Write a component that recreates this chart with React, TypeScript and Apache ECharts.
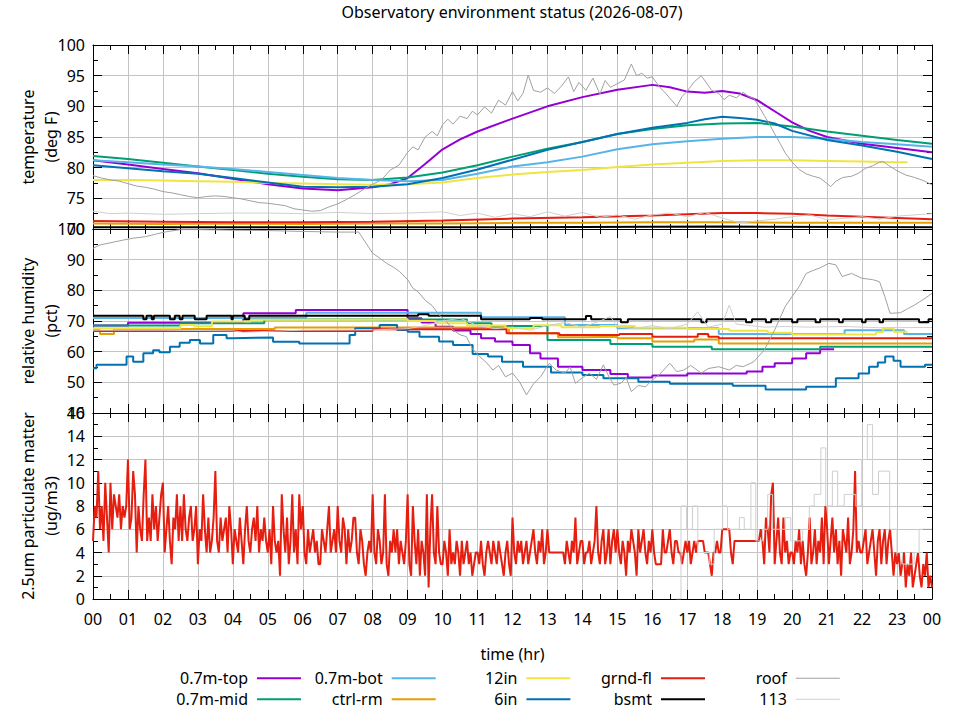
import React, { useEffect, useRef } from "react";
import * as echarts from "echarts";

const FONT = '"Noto Sans", "DejaVu Sans", sans-serif';
const TITLE = "Observatory environment status (2026-08-07)";

const SENSORS = ["0.7m-top", "0.7m-mid", "0.7m-bot", "ctrl-rm", "12in", "6in", "grnd-fl", "bsmt", "roof", "113"];
const COLORS: Record<string, string> = {
  "0.7m-top": "#9400d3",
  "0.7m-mid": "#009e73",
  "0.7m-bot": "#56b4e9",
  "ctrl-rm": "#e69f00",
  "12in": "#f0e442",
  "6in": "#0072b2",
  "grnd-fl": "#e51e10",
  bsmt: "#000000",
  roof: "#a0a0a0",
  "113": "#cfcfcf",
};

// ---------- temperature (deg F), [hour, value] ----------
const TEMP_TOP = [[0,81.2],[1,80.5],[2,79.8],[3,79.1],[4,78.2],[5,77.3],[6,76.6],[7,76.3],[8,76.8],[8.5,77.3],[9,78.3],[9.5,80.6],[10,83.0],[10.5,84.6],[11,85.9],[12,88.0],[13,90.0],[14,91.5],[15,92.7],[16,93.5],[16.5,93.1],[17,92.4],[17.5,92.2],[18,92.5],[18.5,92.1],[19,91.0],[19.5,89.2],[20,87.4],[20.5,86.0],[21,85.0],[22,83.9],[23,83.2],[24,82.5]];
const TEMP_MID = [[0,81.9],[1,81.4],[2,80.8],[3,80.2],[4,79.6],[5,79.0],[6,78.5],[7,78.1],[8,78.0],[9,78.4],[10,79.2],[11,80.4],[12,81.8],[13,83.1],[14,84.2],[15,85.5],[16,86.3],[17,86.9],[18,87.2],[19,87.3],[20,86.7],[21,85.9],[22,85.2],[23,84.5],[24,83.9]];
const TEMP_BOT = [[0,81.2],[1,80.9],[2,80.5],[3,80.2],[4,79.8],[5,79.3],[6,78.8],[7,78.3],[8,78.0],[9,77.8],[10,78.0],[11,79.0],[12,80.2],[13,80.9],[14,81.8],[15,83.0],[16,83.8],[17,84.3],[18,84.7],[19,85.0],[20,85.0],[21,84.7],[22,84.2],[23,83.8],[24,83.4]];
const TEMP_CTRL = [[0,70.9],[2,70.8],[4,70.9],[6,70.8],[8,70.9],[10,70.9],[12,71.0],[14,71.0],[16,71.1],[18,71.1],[20,71.0],[22,71.0],[24,71.0]];
const TEMP_12IN = [[0,78.0],[1,78.0],[2,77.9],[3,77.8],[4,77.7],[5,77.5],[6,77.4],[7,77.3],[8,77.2],[9,77.3],[10,77.6],[11,78.3],[12,78.9],[13,79.3],[14,79.6],[15,80.1],[16,80.5],[17,80.8],[18,81.1],[19,81.2],[20,81.2],[21,81.1],[22,81.0],[23,80.9],[23.3,80.9]];
const TEMP_6IN = [[0,80.4],[1,79.9],[2,79.4],[3,79.0],[4,78.3],[5,77.6],[6,76.9],[7,76.8],[8,76.9],[9,77.3],[10,78.3],[11,79.7],[12,81.3],[13,82.9],[14,84.2],[15,85.5],[16,86.5],[17,87.3],[17.5,87.9],[18,88.3],[18.5,88.1],[19,87.8],[19.5,87.2],[20,86.0],[21,84.5],[22,83.6],[23,82.6],[24,81.4]];
const TEMP_GRND = [[0,71.3],[2,71.2],[4,71.1],[6,71.1],[8,71.2],[10,71.4],[12,71.7],[14,71.9],[16,72.2],[17,72.4],[18,72.6],[19,72.6],[20,72.5],[21,72.2],[22,72.0],[23,71.8],[24,71.6]];
const TEMP_BSMT = [[0,70.3],[6,70.3],[12,70.3],[18,70.4],[24,70.3]];
const TEMP_ROOF = [[0,78.7],[0.25,78.3],[0.5,78.0],[0.75,77.8],[1,77.4],[1.25,77.0],[1.5,76.8],[1.75,76.5],[2,76.1],[2.25,75.9],[2.5,75.6],[2.75,75.3],[3,75.1],[3.25,75.3],[3.5,75.4],[3.75,75.3],[4,75.1],[4.25,74.9],[4.5,74.6],[4.75,74.3],[5,74.2],[5.25,74.0],[5.5,73.8],[5.75,73.3],[6,73.1],[6.25,72.9],[6.5,73.0],[6.75,73.6],[7,74.1],[7.25,74.8],[7.5,75.6],[7.75,76.5],[8,77.3],[8.25,78.0],[8.5,79.6],[8.75,80.4],[9,82.5],[9.15,83.4],[9.3,82.9],[9.5,85.0],[9.7,85.9],[9.85,85.2],[10,87.0],[10.15,87.9],[10.3,87.1],[10.5,88.4],[10.7,88.0],[10.85,89.2],[11,88.6],[11.2,89.9],[11.4,88.9],[11.6,91.0],[11.8,90.2],[12,92.4],[12.15,90.9],[12.3,92.1],[12.45,95.1],[12.6,92.6],[12.8,92.3],[13,93.0],[13.2,92.1],[13.4,93.3],[13.6,94.8],[13.75,92.4],[13.9,93.9],[14.1,92.6],[14.3,94.6],[14.5,92.0],[14.65,94.2],[14.8,93.1],[15,93.7],[15.2,94.3],[15.4,96.9],[15.55,95.0],[15.7,95.4],[15.85,94.6],[16,94.8],[16.2,93.2],[16.4,92.0],[16.55,91.0],[16.7,90.0],[16.85,91.6],[17,92.5],[17.2,94.0],[17.4,95.0],[17.55,93.8],[17.7,92.6],[17.9,92.1],[18.05,91.1],[18.2,91.8],[18.4,91.4],[18.6,92.3],[18.75,91.6],[18.9,91.3],[19.05,90.0],[19.2,88.5],[19.35,87.1],[19.5,85.5],[19.65,84.0],[19.8,82.4],[20,80.9],[20.2,79.7],[20.4,79.0],[20.6,78.6],[20.8,78.3],[21,77.4],[21.1,76.9],[21.25,77.8],[21.45,78.4],[21.7,78.6],[21.9,79.1],[22.1,79.9],[22.3,80.3],[22.5,80.9],[22.6,81.0],[22.75,80.4],[23,79.5],[23.25,78.8],[23.5,78.4],[23.75,77.9],[24,77.2]];
const TEMP_113 = [[0,72.9],[0.5,72.5],[1,72.6],[2,72.4],[3,72.5],[4,72.6],[5,72.6],[6,72.5],[7,72.7],[8,72.5],[9,72.6],[10,72.8],[10.5,72.2],[11,72.6],[11.5,71.9],[12,72.5],[12.5,72.0],[13,72.8],[13.5,72.1],[14,72.7],[14.5,71.9],[15,72.3],[15.5,71.6],[16,72.3],[16.5,72.6],[17,72.0],[17.5,72.7],[18,71.8],[18.5,71.0],[19,71.3],[19.5,71.6],[20,72.0],[20.5,72.3],[21,71.5],[22,72.0],[22.5,71.6],[23,72.1],[24,72.5]];

// ---------- relative humidity (pct), [hour, value] ----------
const HUM_TOP = [[0,68.5],[1.0,69.4],[4.3,72.5],[5.8,73.6],[9.0,70.9],[9.4,69.5],[9.8,68.1],[10.3,66.9],[10.8,65.8],[11.1,64.4],[11.5,63.3],[12.0,62.2],[12.5,59.5],[12.8,57.8],[13.3,55.1],[14.0,54.0],[14.8,52.7],[15.3,51.6],[16.0,52.2],[17.0,52.9],[18.7,53.5],[19.15,55.1],[19.5,56.2],[20.0,57.8],[20.4,59.5],[20.8,60.8],[21.2,60.8]];
const HUM_MID = [[0,68.5],[2.5,69.3],[4.9,70.5],[10.7,69.3],[11.4,68.4],[13.0,63.8],[14.8,62.5],[16.0,61.6],[17.7,60.8],[20.8,61.6],[24,61.6]];
const HUM_BOT = [[0,71.0],[6.1,72.7],[11.1,71.2],[13.5,68.7],[15.0,67.6],[17.9,65.8],[21.5,67.0],[23.2,65.8],[24,65.8]];
const HUM_CTRL = [[0,67.1],[0.2,65.8],[0.6,67.4],[5.2,67.9],[11.9,66.0],[13.3,64.7],[14.0,64.9],[15.0,64.4],[16.0,63.3],[17.2,64.0],[17.9,62.7],[24,62.7]];
const HUM_12IN = [[0,67.6],[2.5,68.7],[2.9,68.3],[3.4,69.8],[4.5,70.4],[7.5,70.6],[9.0,70.0],[9.8,69.3],[10.7,68.5],[11.8,67.6],[12.6,68.6],[13.4,68.0],[14.5,68.4],[15.5,67.8],[17.0,67.4],[18.2,66.8],[19.3,66.2],[20.0,65.6],[22.4,66.4],[22.6,67.6],[22.9,66.5],[23.3,66.3]];
const HUM_6IN = [[0,54.6],[0.1,55.7],[0.96,58.4],[1.15,56.7],[1.44,59.5],[1.72,60.5],[1.9,59.8],[2.2,61.6],[2.48,62.9],[2.77,63.8],[3.06,62.7],[3.44,65.4],[3.82,64.4],[4.0,64.6],[5.15,63.2],[5.9,62.7],[7.34,65.4],[7.5,67.6],[8.2,68.7],[8.7,67.1],[9.0,66.5],[9.34,64.9],[9.9,63.3],[10.3,62.2],[10.86,59.2],[11.3,58.4],[11.7,56.7],[12.3,55.1],[13.1,53.2],[14.0,52.4],[14.6,51.3],[15.6,50.2],[16.5,49.5],[18.3,48.9],[19.24,47.7],[20.4,48.6],[21.25,51.3],[21.9,52.9],[22.2,55.1],[22.45,56.5],[22.66,58.4],[22.9,57.0],[23.1,55.1],[23.8,55.7],[24,55.7]];
const HUM_GRND = [[0,66.7],[8.0,67.3],[11.83,66.0],[13.34,65.4],[15.06,65.8],[16.0,64.9],[17.3,65.8],[17.6,64.9],[17.9,64.4],[24,64.4]];
const HUM_BSMT = [[0,71.7],[1.44,70.6],[1.53,71.7],[1.68,70.6],[1.74,71.7],[2.2,70.6],[2.34,71.7],[2.48,70.6],[2.56,71.7],[2.91,70.6],[3.25,71.7],[3.96,70.6],[4.0,71.7],[4.34,70.6],[4.47,71.7],[9.3,72.2],[9.6,71.7],[11.1,70.6],[12.5,71.0],[12.85,70.6],[14.1,71.6],[14.25,70.6],[15.1,69.6],[15.3,70.6],[17.4,69.6],[17.55,70.6],[18.68,69.6],[18.85,70.6],[19.25,69.6],[19.4,70.6],[20.0,69.6],[20.15,70.6],[20.67,69.6],[20.8,70.6],[21.34,69.6],[21.45,70.6],[22.0,69.6],[22.1,70.6],[22.5,69.6],[22.6,70.6],[23.63,69.6],[23.9,70.6],[24,70.6]];
const HUM_ROOF = [[0,93.7],[0.2,94.8],[0.87,96.4],[1.15,97.0],[1.5,97.5],[1.82,98.4],[2.1,99.1],[2.5,99.8],[3,99.8],[4,99.6],[5,99.5],[6,99.2],[7,99.0],[7.6,99.0],[8.0,92.1],[8.2,90.5],[8.4,88.8],[8.6,87.5],[8.77,86.1],[9.0,83.5],[9.15,80.7],[9.3,79.5],[9.5,76.8],[9.7,75.0],[9.9,72.0],[10.1,70.0],[10.3,67.1],[10.5,65.5],[10.68,64.9],[10.85,61.0],[11.06,58.4],[11.25,56.5],[11.44,54.0],[11.6,55.5],[11.8,51.8],[12.0,53.0],[12.2,50.2],[12.4,45.9],[12.6,49.5],[12.8,51.8],[13.05,56.2],[13.25,54.0],[13.5,53.0],[13.65,55.0],[13.8,49.7],[14.0,51.5],[14.2,53.0],[14.4,51.0],[14.6,55.7],[14.75,52.0],[14.9,49.1],[15.1,49.7],[15.25,51.5],[15.4,47.0],[15.6,49.0],[15.8,48.5],[16.0,50.8],[16.2,52.5],[16.5,56.2],[16.7,53.5],[16.9,54.0],[17.1,55.5],[17.4,53.0],[17.6,54.5],[17.9,55.1],[18.2,54.0],[18.4,55.5],[18.6,55.1],[18.9,56.7],[19.2,60.5],[19.5,67.1],[19.8,74.7],[20.0,78.0],[20.2,81.2],[20.4,85.5],[20.6,86.5],[20.77,87.2],[21.05,88.8],[21.25,88.3],[21.43,84.5],[21.7,85.5],[22.0,83.9],[22.3,83.5],[22.5,82.8],[22.65,78.0],[22.8,72.5],[23.1,72.7],[23.3,74.0],[23.5,75.2],[23.75,77.0],[24,79.0]];
const HUM_113 = [[0,67.0],[2,67.0],[4,66.8],[4.3,66.3],[4.7,66.5],[6,67.0],[8,67.1],[9,67.5],[9.5,68.5],[10.0,70.0],[10.5,70.9],[11.0,68.5],[11.5,67.5],[12.0,68.0],[12.5,67.0],[13.0,68.5],[13.5,69.5],[14.0,68.0],[14.5,70.0],[14.8,71.5],[15.0,68.0],[15.5,67.5],[16.0,68.5],[16.5,67.5],[17.0,69.0],[17.3,73.0],[17.6,68.0],[18.0,69.0],[18.2,75.2],[18.4,69.0],[18.8,68.5],[19.2,68.0],[19.8,68.2],[20.5,68.0],[21.5,68.2],[22.5,67.8],[24,67.9]];

// ---------- 2.5um particulate matter (ug/m3), one value every 3 minutes ----------
const PM_STEP_HR = 0.05;
const PM_GRND = [
  5,8,7,11,6,8,5,10,7,4,10,6,9,8,7,9,6,8,7,8,      // 00
  12,6,7,11,9,4,8,6,5,9,12,5,7,5,9,6,8,5,7,9,      // 01
  10,4,6,8,5,3,7,6,9,5,8,5,9,6,5,7,8,5,6,8,        // 02
  3,6,5,9,6,4,7,4,5,7,11,5,4,7,5,6,7,4,8,6,        // 03
  3,6,5,4,7,5,3,6,8,5,4,6,7,5,8,4,6,5,7,5,         // 04
  4,6,3,8,5,4,5,2,9,6,4,7,3,5,9,4,6,3,9,6,         // 05
  8,4,3,6,4,5,6,4,5,3,3,6,5,4,6,8,4,5,6,4,         // 06
  8,5,4,7,6,3,6,4,5,7,7,4,3,6,5,3,2,4,5,4,         // 07
  9,4,3,6,5,3,4,9,3,2,5,4,6,4,6,3,5,4,3,5,         // 08
  9,3,2,8,5,3,6,2,5,4,2,9,1,6,9,4,3,8,4,3,         // 09
  3,5,4,2,6,3,4,3,5,4,2,5,3,4,5,3,4,2,3,4,         // 10
  4,3,5,3,2,4,5,4,3,5,4,3,5,4,3,2,4,5,3,2,         // 11
  7,4,3,5,4,5,3,4,5,3,4,5,6,4,3,5,4,6,3,4,         // 12
  6,4,4,4,4,4,4,4,4,4,3,5,4,3,5,4,7,3,4,5,         // 13
  5,3,4,4,5,3,4,5,8,4,3,5,6,3,4,6,3,5,6,4,         // 14
  6,4,3,5,4,2,5,4,6,5,4,2,6,4,5,6,4,3,5,4,         // 15
  6,4,3,3,3,3,6,4,4,5,6,4,3,5,5,4,4,3,4,5,         // 16
  4,5,3,4,5,4,5,5,5,5,4,4,4,3,2,4,4,5,4,4,         // 17
  6,6,6,6,6,4,3,5,5,5,5,5,5,5,5,5,5,5,5,5,         // 18
  5,5,6,5,3,7,6,4,9,10,3,5,7,4,3,7,4,5,3,4,        // 19
  4,3,5,4,6,3,5,3,2,4,7,3,4,6,3,5,4,7,3,8,         // 20
  6,3,5,7,4,6,3,5,2,6,5,4,7,3,4,6,11,4,5,4,        // 21
  4,5,6,3,4,5,6,4,2,5,6,3,5,6,3,5,6,4,2,4,         // 22
  3,4,2,3,4,1,3,2,4,1,2,3,4,2,1,3,2,4,1,2,         // 23
  1,
];
const PM_113 = [[16.68,0],[16.82,8],[16.98,6],[17.15,8],[17.3,4],[17.63,3],[17.77,6],[18.01,8],[18.15,6],[18.49,7],[18.63,6],[18.82,10],[18.96,5],[19.15,6],[19.3,9],[19.44,6],[19.8,7],[19.96,5],[20.3,6],[20.49,8],[20.63,9],[20.82,13],[20.96,8],[21.15,11],[21.3,8],[21.49,9],[21.82,8],[21.99,12],[22.15,15],[22.3,9],[22.47,11],[22.79,6],[23.0,4],[23.15,3],[23.49,4],[23.63,6],[24,6]];

// ---------- axes ----------
const TEMP_RANGE = { min: 70, max: 100, interval: 5 };
const HUM_RANGE = { min: 40, max: 100, interval: 10 };
const PM_RANGE = { min: 0, max: 16, interval: 2 };
const Y_NAMES = ["temperature\n(deg F)", "relative humidity\n(pct)", "2.5um particulate matter\n(ug/m3)"];
const X_NAME = "time (hr)";

const GRIDS = [
  { left: 93, right: 28, top: 45, height: 184 },
  { left: 93, right: 28, top: 229, height: 184 },
  { left: 93, right: 28, top: 413, height: 186 },
];
const LEGEND_LINE_END = [301, 435.7, 570.4, 705, 839.8];
const LEGEND_ROW_Y = [678.3, 699.3];

const GRID_COLOR = "#c4c4c4";

function xAxis(g: number, pos: "bottom" | "top") {
  const labelled = g === 2 && pos === "bottom";
  return {
    type: "value",
    gridIndex: g,
    position: pos,
    min: 0,
    max: 24,
    interval: 1,
    axisLine: { show: true, onZero: false, lineStyle: { color: "#000", width: 1 } },
    axisTick: { show: true, inside: true, length: 9, lineStyle: { color: "#000", width: 1 } },
    minorTick: { show: true, splitNumber: 2, length: 5, lineStyle: { color: "#000", width: 1 } },
    splitLine: { show: pos === "bottom", lineStyle: { color: GRID_COLOR, width: 1 } },
    minorSplitLine: { show: false },
    axisLabel: {
      show: labelled,
      fontSize: 16,
      fontFamily: FONT,
      color: "#000",
      margin: 12,
      formatter: (v: number) => String(Math.round(v) % 24).padStart(2, "0"),
    },
    name: labelled ? X_NAME : "",
    nameLocation: "middle",
    nameGap: 47,
    nameMoveOverlap: false,
    nameTextStyle: { fontSize: 16, fontFamily: FONT, color: "#000" },
  };
}

function yAxis(g: number, pos: "left" | "right", range: { min: number; max: number; interval: number }) {
  const left = pos === "left";
  return {
    type: "value",
    gridIndex: g,
    position: pos,
    min: range.min,
    max: range.max,
    interval: range.interval,
    axisLine: { show: true, onZero: false, lineStyle: { color: "#000", width: 1 } },
    axisTick: { show: true, inside: true, length: 9, lineStyle: { color: "#000", width: 1 } },
    minorTick: { show: true, splitNumber: 2, length: 5, lineStyle: { color: "#000", width: 1 } },
    splitLine: { show: left, lineStyle: { color: GRID_COLOR, width: 1 } },
    axisLabel: {
      show: left,
      fontSize: 16,
      fontFamily: FONT,
      color: "#000",
      margin: 8,
      showMinLabel: true,
      showMaxLabel: true,
    },
    name: left ? Y_NAMES[g] : "",
    nameLocation: "middle",
    nameRotate: 90,
    nameGap: 31,
    nameMoveOverlap: false,
    nameTextStyle: { fontSize: 16, fontFamily: FONT, color: "#000", lineHeight: 23, align: "center" },
  };
}

const THIN = new Set(["roof", "113"]);

function line(name: string, data: number[][], g: number, step: false | "end" = false) {
  return {
    type: "line",
    name,
    data,
    xAxisIndex: g * 2,
    yAxisIndex: g * 2,
    step,
    symbol: "none",
    showSymbol: false,
    silent: true,
    animation: false,
    color: COLORS[name],
    lineStyle: { color: COLORS[name], width: THIN.has(name) ? 1 : 2 },
    itemStyle: { color: COLORS[name] },
    emphasis: { disabled: true },
  };
}

export default function App() {
  const ref = useRef<HTMLDivElement>(null);
  useEffect(() => {
    if (!ref.current) return;
    const chart = echarts.init(ref.current, null, { renderer: "svg" });

    const pmData = PM_GRND.map((v, i) => [Number((i * PM_STEP_HR).toFixed(2)), v]);

    const series = [
      line("0.7m-top", TEMP_TOP, 0),
      line("0.7m-mid", TEMP_MID, 0),
      line("0.7m-bot", TEMP_BOT, 0),
      line("ctrl-rm", TEMP_CTRL, 0),
      line("12in", TEMP_12IN, 0),
      line("6in", TEMP_6IN, 0),
      line("grnd-fl", TEMP_GRND, 0),
      line("bsmt", TEMP_BSMT, 0),
      line("roof", TEMP_ROOF, 0),
      line("113", TEMP_113, 0),

      line("0.7m-top", HUM_TOP, 1, "end"),
      line("0.7m-mid", HUM_MID, 1, "end"),
      line("0.7m-bot", HUM_BOT, 1, "end"),
      line("ctrl-rm", HUM_CTRL, 1, "end"),
      line("12in", HUM_12IN, 1, "end"),
      line("6in", HUM_6IN, 1, "end"),
      line("grnd-fl", HUM_GRND, 1, "end"),
      line("bsmt", HUM_BSMT, 1, "end"),
      line("roof", HUM_ROOF, 1),
      line("113", HUM_113, 1),

      line("grnd-fl", pmData, 2),
      line("113", PM_113, 2, "end"),
    ];

    const legends = SENSORS.map((name, i) => {
      const c = Math.floor(i / 2);
      const r = i % 2;
      return {
        data: [name],
        orient: "horizontal",
        align: "right",
        right: 960 - LEGEND_LINE_END[c],
        top: LEGEND_ROW_Y[r] - 8,
        padding: 0,
        itemGap: 0,
        icon: "rect",
        itemWidth: 44,
        itemHeight: THIN.has(name) ? 1 : 2,
        selectedMode: false,
        textStyle: { fontSize: 16, fontFamily: FONT, color: "#000", padding: [0, 4, 0, 0] },
      };
    });

    chart.setOption({
      animation: false,
      backgroundColor: "#fff",
      title: {
        text: TITLE,
        left: 512,
        top: 4,
        padding: 0,
        textAlign: "center",
        textStyle: { fontSize: 16, fontWeight: "normal", fontFamily: FONT, color: "#000" },
      },
      grid: GRIDS,
      xAxis: [0, 1, 2].flatMap((g) => [xAxis(g, "bottom"), xAxis(g, "top")]),
      yAxis: [
        yAxis(0, "left", TEMP_RANGE), yAxis(0, "right", TEMP_RANGE),
        yAxis(1, "left", HUM_RANGE), yAxis(1, "right", HUM_RANGE),
        yAxis(2, "left", PM_RANGE), yAxis(2, "right", PM_RANGE),
      ],
      legend: legends,
      series,
    });
    return () => chart.dispose();
  }, []);
  return <div ref={ref} style={{ position: "fixed", left: 0, top: 0, width: 960, height: 720 }} />;
}
